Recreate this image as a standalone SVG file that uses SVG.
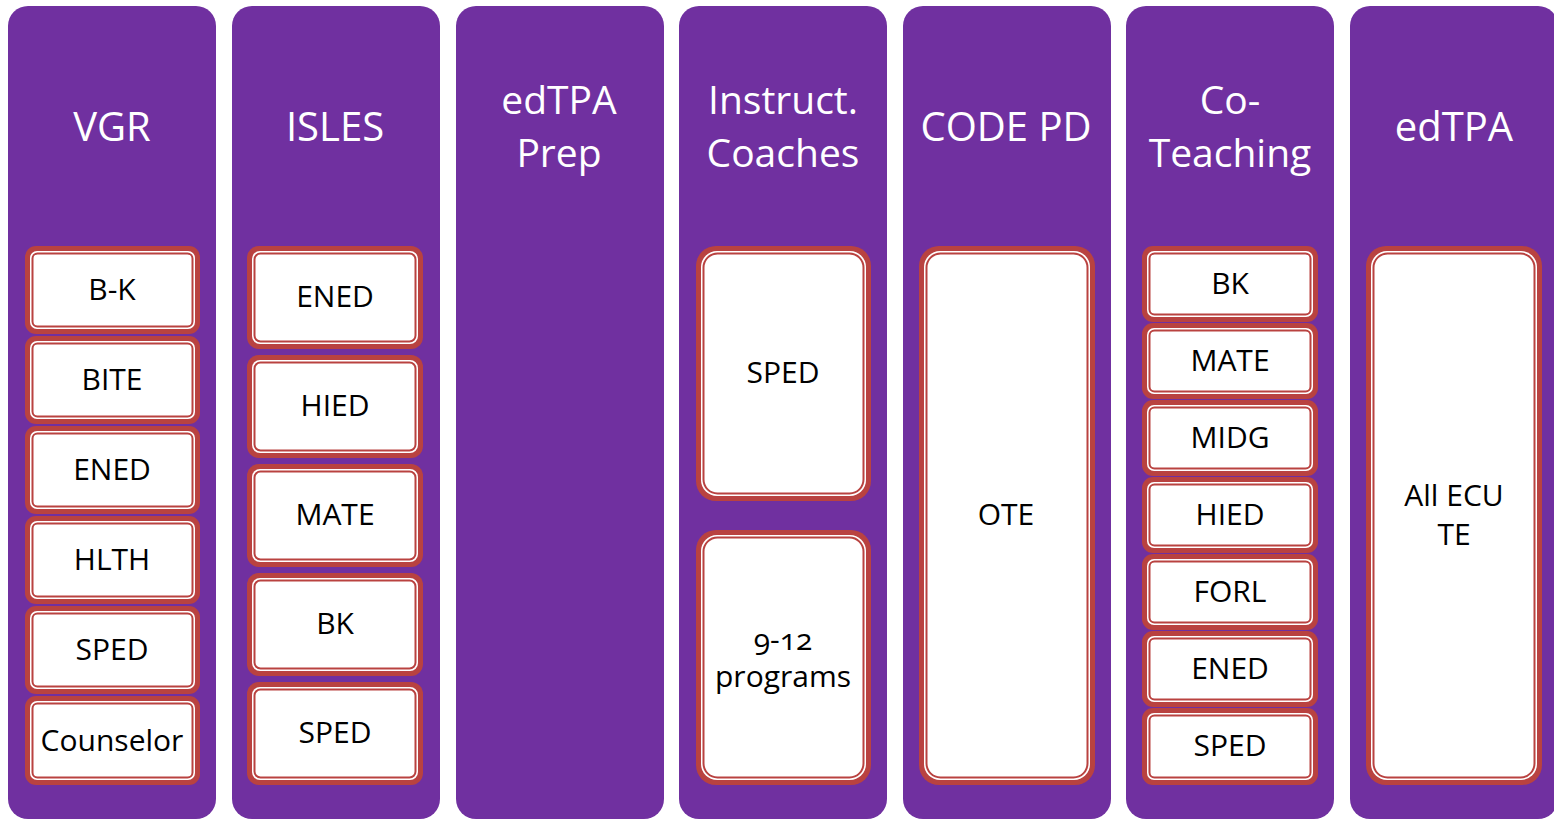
<svg xmlns="http://www.w3.org/2000/svg" width="1554" height="819" viewBox="0 0 1554 819">
<style>
.panel{fill:#7030A0}
.o{fill:#B94240}
.w{fill:#FFFFFF}
.i{fill:#FFFFFF;stroke:#B94240;stroke-width:2}
.h{font-family:"Open Sans","Noto Sans",sans-serif;font-size:40px;fill:#FFFFFF;text-anchor:middle}
.h2{font-size:39px}
.t{font-family:"Open Sans","Noto Sans",sans-serif;font-size:30px;fill:#000000;text-anchor:middle}
.num{font-feature-settings:"onum"}
</style>
<rect width="1554" height="819" fill="#FFFFFF"/>

<g id="col-vgr">
<rect class="panel" x="8" y="6" width="208" height="813" rx="20"/>
<text class="h" x="112" y="141">VGR</text>
</g>
<g id="col-isles">
<rect class="panel" x="232" y="6" width="208" height="813" rx="20"/>
<text class="h" x="335" y="141">ISLES</text>
</g>
<g id="col-edtpaprep">
<rect class="panel" x="456" y="6" width="208" height="813" rx="20"/>
<text class="h h2" x="559" y="114">edTPA</text>
<text class="h h2" x="559" y="167">Prep</text>
</g>
<g id="col-coaches">
<rect class="panel" x="679" y="6" width="208" height="813" rx="20"/>
<text class="h h2" x="783" y="114">Instruct.</text>
<text class="h h2" x="783" y="167">Coaches</text>
</g>
<g id="col-codepd">
<rect class="panel" x="903" y="6" width="208" height="813" rx="20"/>
<text class="h" x="1006" y="141">CODE PD</text>
</g>
<g id="col-coteaching">
<rect class="panel" x="1126" y="6" width="208" height="813" rx="20"/>
<text class="h h2" x="1230" y="114">Co-</text>
<text class="h h2" x="1230" y="167">Teaching</text>
</g>
<g id="col-edtpa">
<rect class="panel" x="1350" y="6" width="208" height="813" rx="20"/>
<text class="h" x="1454" y="141">edTPA</text>
</g>

<!-- VGR boxes -->
<g id="vgr-bk"><rect class="o" x="25" y="246" width="175" height="88" rx="11"/><rect class="w" x="30" y="251" width="165" height="78" rx="7"/><rect class="i" x="32.5" y="253.5" width="160" height="73" rx="5"/><text class="t" x="112" y="300">B-K</text></g>
<g id="vgr-bite"><rect class="o" x="25" y="336" width="175" height="88" rx="11"/><rect class="w" x="30" y="341" width="165" height="78" rx="7"/><rect class="i" x="32.5" y="343.5" width="160" height="73" rx="5"/><text class="t" x="112" y="390">BITE</text></g>
<g id="vgr-ened"><rect class="o" x="25" y="426" width="175" height="88" rx="11"/><rect class="w" x="30" y="431" width="165" height="78" rx="7"/><rect class="i" x="32.5" y="433.5" width="160" height="73" rx="5"/><text class="t" x="112" y="480">ENED</text></g>
<g id="vgr-hlth"><rect class="o" x="25" y="516" width="175" height="88" rx="11"/><rect class="w" x="30" y="521" width="165" height="78" rx="7"/><rect class="i" x="32.5" y="523.5" width="160" height="73" rx="5"/><text class="t" x="112" y="570">HLTH</text></g>
<g id="vgr-sped"><rect class="o" x="25" y="606" width="175" height="88" rx="11"/><rect class="w" x="30" y="611" width="165" height="78" rx="7"/><rect class="i" x="32.5" y="613.5" width="160" height="73" rx="5"/><text class="t" x="112" y="660">SPED</text></g>
<g id="vgr-counselor"><rect class="o" x="25" y="696" width="175" height="89" rx="11"/><rect class="w" x="30" y="701" width="165" height="79" rx="7"/><rect class="i" x="32.5" y="703.5" width="160" height="74" rx="5"/><text class="t" x="112" y="751">Counselor</text></g>

<!-- ISLES boxes -->
<g id="isles-ened"><rect class="o" x="247" y="246" width="176" height="103" rx="12"/><rect class="w" x="252" y="251" width="166" height="93" rx="8"/><rect class="i" x="254.5" y="253.5" width="161" height="88" rx="6"/><text class="t" x="335" y="307">ENED</text></g>
<g id="isles-hied"><rect class="o" x="247" y="355" width="176" height="103" rx="12"/><rect class="w" x="252" y="360" width="166" height="93" rx="8"/><rect class="i" x="254.5" y="362.5" width="161" height="88" rx="6"/><text class="t" x="335" y="416">HIED</text></g>
<g id="isles-mate"><rect class="o" x="247" y="464" width="176" height="103" rx="12"/><rect class="w" x="252" y="469" width="166" height="93" rx="8"/><rect class="i" x="254.5" y="471.5" width="161" height="88" rx="6"/><text class="t" x="335" y="525">MATE</text></g>
<g id="isles-bk"><rect class="o" x="247" y="573" width="176" height="103" rx="12"/><rect class="w" x="252" y="578" width="166" height="93" rx="8"/><rect class="i" x="254.5" y="580.5" width="161" height="88" rx="6"/><text class="t" x="335" y="634">BK</text></g>
<g id="isles-sped"><rect class="o" x="247" y="682" width="176" height="103" rx="12"/><rect class="w" x="252" y="687" width="166" height="93" rx="8"/><rect class="i" x="254.5" y="689.5" width="161" height="88" rx="6"/><text class="t" x="335" y="743">SPED</text></g>

<!-- Instruct. Coaches boxes -->
<g id="coach-sped"><rect class="o" x="696" y="246" width="175" height="255" rx="20"/><rect class="w" x="701" y="251" width="165" height="245" rx="16"/><rect class="i" x="703.5" y="253.5" width="160" height="240" rx="14"/><text class="t" x="783" y="383">SPED</text></g>
<g id="coach-912"><rect class="o" x="696" y="530" width="175" height="255" rx="20"/><rect class="w" x="701" y="535" width="165" height="245" rx="16"/><rect class="i" x="703.5" y="537.5" width="160" height="240" rx="14"/><text class="t num" x="783" y="650">9-12</text><text class="t" x="783" y="687">programs</text></g>

<!-- CODE PD box -->
<g id="code-ote"><rect class="o" x="919" y="246" width="176" height="539" rx="20"/><rect class="w" x="924" y="251" width="166" height="529" rx="16"/><rect class="i" x="926.5" y="253.5" width="161" height="524" rx="14"/><text class="t" x="1006" y="525">OTE</text></g>

<!-- Co-Teaching boxes -->
<g id="co-bk"><rect class="o" x="1142" y="246" width="176" height="76" rx="11"/><rect class="w" x="1147" y="251" width="166" height="66" rx="7"/><rect class="i" x="1149.5" y="253.5" width="161" height="61" rx="5"/><text class="t" x="1230" y="294">BK</text></g>
<g id="co-mate"><rect class="o" x="1142" y="323" width="176" height="76" rx="11"/><rect class="w" x="1147" y="328" width="166" height="66" rx="7"/><rect class="i" x="1149.5" y="330.5" width="161" height="61" rx="5"/><text class="t" x="1230" y="371">MATE</text></g>
<g id="co-midg"><rect class="o" x="1142" y="400" width="176" height="76" rx="11"/><rect class="w" x="1147" y="405" width="166" height="66" rx="7"/><rect class="i" x="1149.5" y="407.5" width="161" height="61" rx="5"/><text class="t" x="1230" y="448">MIDG</text></g>
<g id="co-hied"><rect class="o" x="1142" y="477" width="176" height="76" rx="11"/><rect class="w" x="1147" y="482" width="166" height="66" rx="7"/><rect class="i" x="1149.5" y="484.5" width="161" height="61" rx="5"/><text class="t" x="1230" y="525">HIED</text></g>
<g id="co-forl"><rect class="o" x="1142" y="554" width="176" height="76" rx="11"/><rect class="w" x="1147" y="559" width="166" height="66" rx="7"/><rect class="i" x="1149.5" y="561.5" width="161" height="61" rx="5"/><text class="t" x="1230" y="602">FORL</text></g>
<g id="co-ened"><rect class="o" x="1142" y="631" width="176" height="76" rx="11"/><rect class="w" x="1147" y="636" width="166" height="66" rx="7"/><rect class="i" x="1149.5" y="638.5" width="161" height="61" rx="5"/><text class="t" x="1230" y="679">ENED</text></g>
<g id="co-sped"><rect class="o" x="1142" y="708" width="176" height="77" rx="11"/><rect class="w" x="1147" y="713" width="166" height="67" rx="7"/><rect class="i" x="1149.5" y="715.5" width="161" height="62" rx="5"/><text class="t" x="1230" y="756">SPED</text></g>

<!-- edTPA box -->
<g id="edtpa-all"><rect class="o" x="1366" y="246" width="176" height="539" rx="20"/><rect class="w" x="1371" y="251" width="166" height="529" rx="16"/><rect class="i" x="1373.5" y="253.5" width="161" height="524" rx="14"/><text class="t" x="1454" y="506">All ECU</text><text class="t" x="1454" y="545">TE</text></g>
</svg>
